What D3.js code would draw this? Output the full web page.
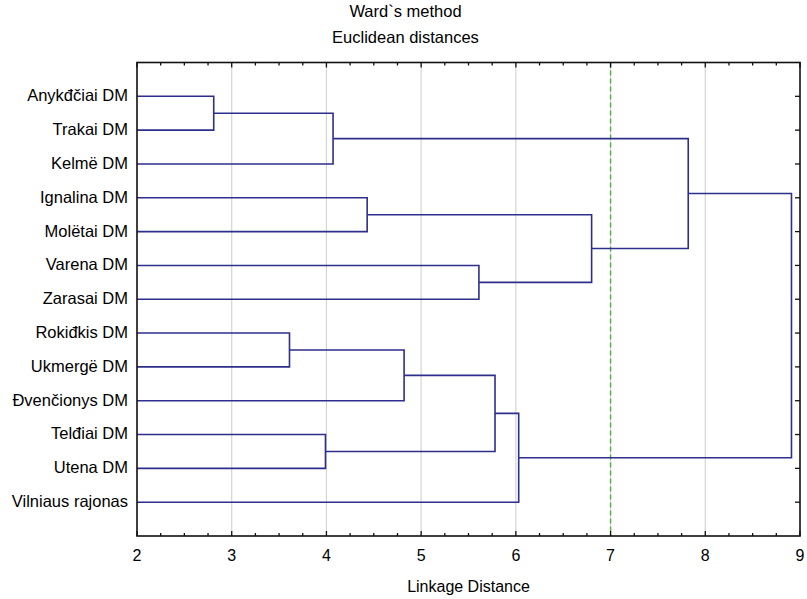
<!DOCTYPE html>
<html>
<head>
<meta charset="utf-8">
<script src="https://cdn.jsdelivr.net/npm/d3@7"></script>
<style>
  body { margin: 0; background: #fff; }
  text { font-family: "Liberation Sans", Arial, sans-serif; fill: #000; }
</style>
</head>
<body>
<svg id="chart"></svg>
<script>
// leaves, top to bottom
const leaves = [
  "Anykđčiai DM", "Trakai DM", "Kelmë DM", "Ignalina DM", "Molëtai DM",
  "Varena DM", "Zarasai DM", "Rokiđkis DM", "Ukmergë DM", "Đvenčionys DM",
  "Telđiai DM", "Utena DM", "Vilniaus rajonas"
];
// merges: [a, b, distance]; leaf ids 0..12, merge k gets id 13 + k
const mergeA = [0, 13, 3, 5, 15, 14, 7, 19, 10, 20, 22, 18];
const mergeB = [1, 2, 4, 6, 16, 17, 8, 9, 11, 21, 12, 23];
const mergeDist = [2.81, 4.07, 4.43, 5.61, 6.80, 7.82, 3.61, 4.82, 3.99, 5.78, 6.03, 8.91];
const cutLevel = 7;
const xTicks = [2, 3, 4, 5, 6, 7, 8, 9];

const W = 807, H = 599;
const margin = {top: 62.5, right: 7, bottom: 63, left: 137};
const iw = W - margin.left - margin.right;
const ih = H - margin.top - margin.bottom;

const svg = d3.select("#chart").attr("width", W).attr("height", H);
const g = svg.append("g").attr("transform", `translate(${margin.left},${margin.top})`);

const x = d3.scaleLinear().domain([2, 9]).range([0, iw]);
const y = d3.scaleLinear().domain([-1, leaves.length]).range([0, ih]);

// grid
g.append("g").selectAll("line")
  .data(xTicks.slice(1, -1))
  .join("line")
  .attr("x1", d => x(d)).attr("x2", d => x(d))
  .attr("y1", 0).attr("y2", ih)
  .attr("stroke", "#d4d4d4").attr("stroke-width", 1.2);

// cut line
g.append("line")
  .attr("x1", x(cutLevel)).attr("x2", x(cutLevel))
  .attr("y1", 0).attr("y2", ih)
  .attr("stroke", "#55b040").attr("stroke-width", 1.4)
  .attr("stroke-dasharray", "5,3");

// node positions
const nodes = leaves.map((name, i) => ({h: 2, y: y(i)}));
mergeA.forEach((a, k) => {
  const b = mergeB[k];
  nodes.push({h: mergeDist[k], y: (nodes[a].y + nodes[b].y) / 2, a, b});
});

const links = g.append("g")
  .attr("fill", "none")
  .attr("stroke", "#2e2e8c")
  .attr("stroke-width", 1.6);

// each merge draws its bracket
nodes.filter(n => n.a !== undefined).forEach(n => {
  const A = nodes[n.a], B = nodes[n.b];
  links.append("path")
    .attr("d", `M${x(A.h)},${A.y}H${x(n.h)}V${B.y}H${x(B.h)}`);
});

// frame
g.append("rect")
  .attr("width", iw).attr("height", ih)
  .attr("fill", "none").attr("stroke", "#111").attr("stroke-width", 1.6);

// x ticks, bottom and top, inward
const minor = d3.range(2, 9.001, 0.25);
[[ih, -1], [0, 1]].forEach(([yy, dir]) => {
  g.append("g").selectAll("line")
    .data(minor)
    .join("line")
    .attr("x1", d => x(d)).attr("x2", d => x(d))
    .attr("y1", yy)
    .attr("y2", d => yy + dir * (Number.isInteger(d) ? 5 : 3))
    .attr("stroke", "#111").attr("stroke-width", 1.3);
});

// y ticks on right, inward
g.append("g").selectAll("line")
  .data(leaves)
  .join("line")
  .attr("x1", iw).attr("x2", iw - 5)
  .attr("y1", (d, i) => y(i)).attr("y2", (d, i) => y(i))
  .attr("stroke", "#111").attr("stroke-width", 1.3);

// tick labels
g.append("g").selectAll("text")
  .data(xTicks)
  .join("text")
  .attr("x", d => x(d)).attr("y", ih + 25)
  .attr("text-anchor", "middle")
  .attr("font-size", 16)
  .text(d => d);

g.append("g").selectAll("text")
  .data(leaves)
  .join("text")
  .attr("x", -9).attr("y", (d, i) => y(i))
  .attr("dy", "0.3em")
  .attr("text-anchor", "end")
  .attr("font-size", 16.5)
  .text(d => d);

// titles
svg.append("text").attr("x", W / 2 + 2).attr("y", 17)
  .attr("text-anchor", "middle").attr("font-size", 16.5).text("Ward`s method");
svg.append("text").attr("x", W / 2 + 2).attr("y", 43)
  .attr("text-anchor", "middle").attr("font-size", 16.5).text("Euclidean distances");
svg.append("text").attr("x", margin.left + iw / 2).attr("y", 592)
  .attr("text-anchor", "middle").attr("font-size", 16).text("Linkage Distance");
</script>
</body>
</html>
